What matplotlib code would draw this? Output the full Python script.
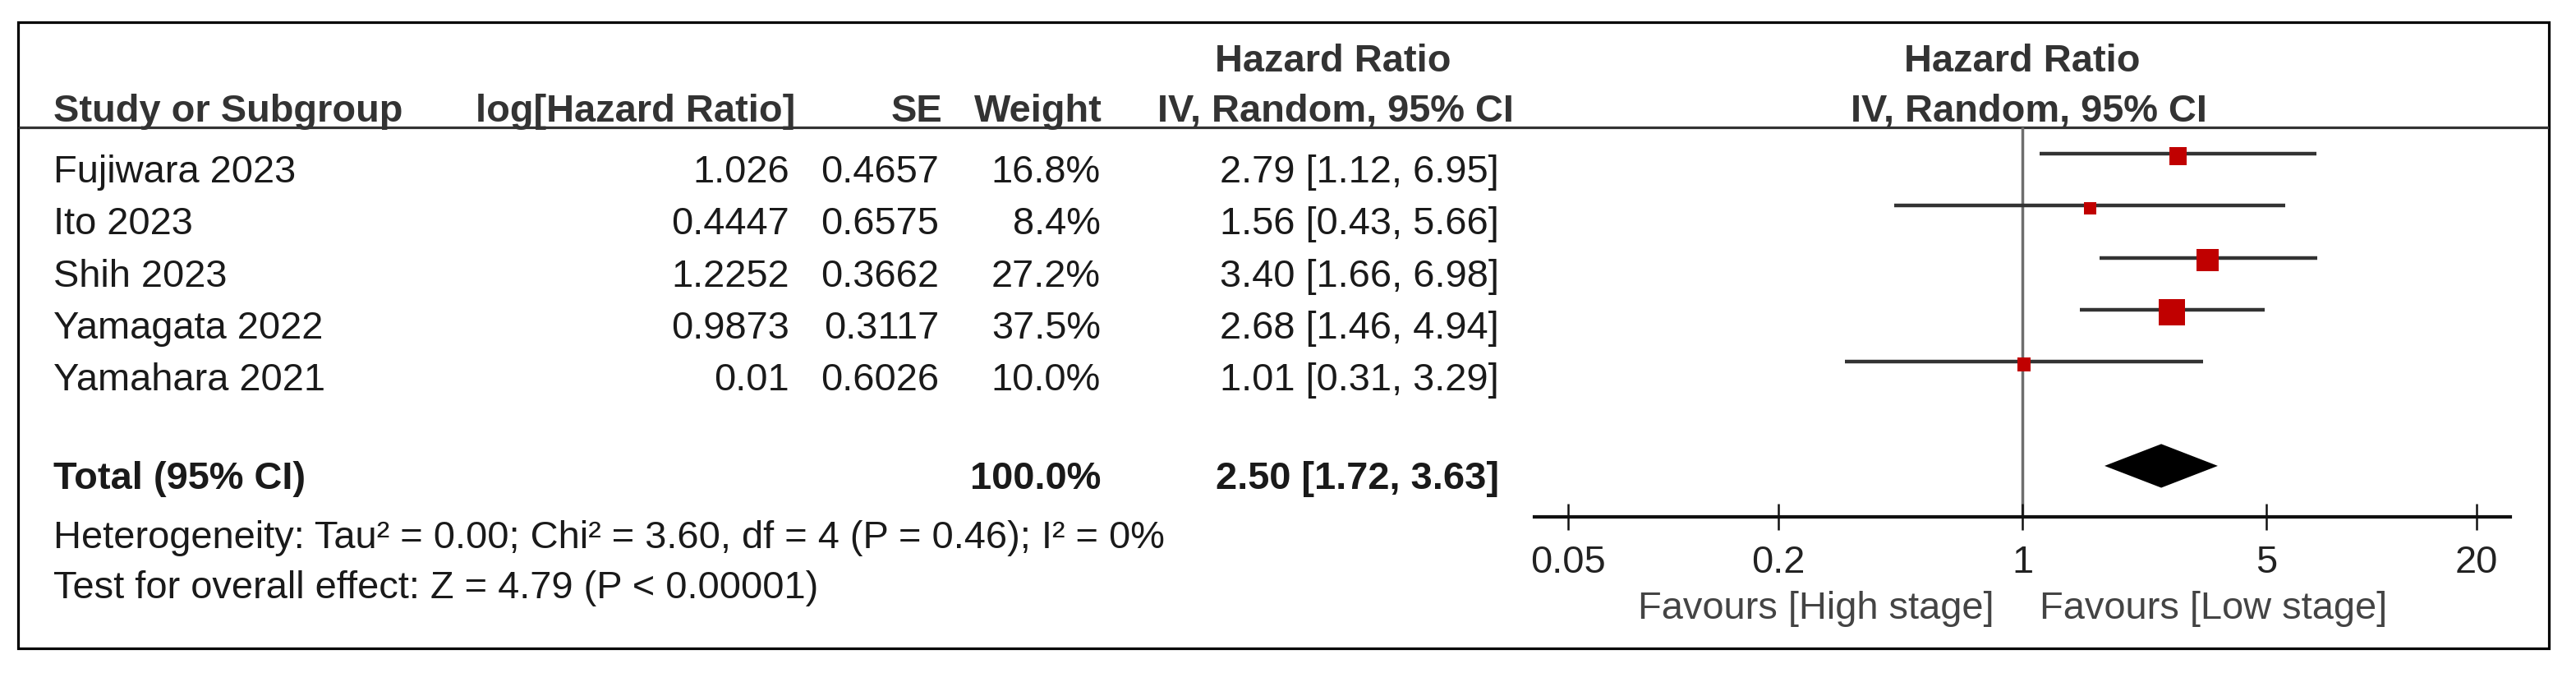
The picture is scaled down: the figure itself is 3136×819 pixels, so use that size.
import numpy as np
import matplotlib
matplotlib.use('Agg')
import matplotlib.pyplot as plt
from matplotlib.patches import Rectangle
from matplotlib.ticker import NullLocator

plt.rcParams['font.family'] = ['Liberation Sans', 'DejaVu Sans']

# data
studies = ['Fujiwara 2023', 'Ito 2023', 'Shih 2023', 'Yamagata 2022', 'Yamahara 2021']
log_hr = [1.026, 0.4447, 1.2252, 0.9873, 0.01]
se = [0.4657, 0.6575, 0.3662, 0.3117, 0.6026]
weight = [16.8, 8.4, 27.2, 37.5, 10.0]
hr = [2.79, 1.56, 3.40, 2.68, 1.01]
ci_low = [1.12, 0.43, 1.66, 1.46, 0.31]
ci_high = [6.95, 5.66, 6.98, 4.94, 3.29]

total_hr = 2.50
total_low = 1.72
total_high = 3.63
total_weight = 100.0

ticks = [0.05, 0.2, 1, 5, 20]
tick_labels = ['0.05', '0.2', '1', '5', '20']
heterogeneity = 'Heterogeneity: Tau² = 0.00; Chi² = 3.60, df = 4 (P = 0.46); I² = 0%'
overall = 'Test for overall effect: Z = 4.79 (P < 0.00001)'
favours_left = 'Favours [High stage]'
favours_right = 'Favours [Low stage]'

W, H = 3136, 819
FS = 33.8
HEAD = '#333333'
BODY = '#1a1a1a'

fig = plt.figure(figsize=(W / 100, H / 100), dpi=100)

# canvas in pixel units for the table part
ax_t = fig.add_axes([0, 0, 1, 1])
ax_t.set_xlim(0, W)
ax_t.set_ylim(H, 0)
ax_t.axis('off')

ax_t.add_patch(Rectangle((22, 27), 3081, 762, fill=False, lw=2.3, ec='black'))
ax_t.plot([22, 3103], [155, 155], color='#333333', lw=2.3, solid_capstyle='butt')

# header
bold = dict(fontsize=FS, fontweight='bold', color=HEAD, va='baseline')
ax_t.text(1623, 87, 'Hazard Ratio', ha='center', **bold)
ax_t.text(2462, 87, 'Hazard Ratio', ha='center', **bold)
ax_t.text(65, 148, 'Study or Subgroup', ha='left', **bold)
ax_t.text(968, 148, 'log[Hazard Ratio]', ha='right', **bold)
ax_t.text(1147, 148, 'SE', ha='right', **bold)
ax_t.text(1342, 148, 'Weight', ha='right', **bold)
ax_t.text(1843, 148, 'IV, Random, 95% CI', ha='right', **bold)
ax_t.text(2470, 148, 'IV, Random, 95% CI', ha='center', **bold)

# study rows
norm = dict(fontsize=FS, color=BODY, va='baseline')
row_base, step = 222, 63.3
for i, name in enumerate(studies):
    yb = row_base + i * step
    ax_t.text(65, yb, name, ha='left', **norm)
    ax_t.text(961, yb, str(log_hr[i]), ha='right', **norm)
    ax_t.text(1143, yb, str(se[i]), ha='right', **norm)
    ax_t.text(1340, yb, f'{weight[i]:.1f}%', ha='right', **norm)
    ax_t.text(1825, yb, f'{hr[i]:.2f} [{ci_low[i]:.2f}, {ci_high[i]:.2f}]', ha='right', **norm)

# total row
tb = dict(fontsize=FS, fontweight='bold', color=BODY, va='baseline')
ax_t.text(65, 595, 'Total (95% CI)', ha='left', **tb)
ax_t.text(1340, 595, f'{total_weight:.1f}%', ha='right', **tb)
ax_t.text(1825, 595, f'{total_hr:.2f} [{total_low:.2f}, {total_high:.2f}]', ha='right', **tb)

ax_t.text(65, 667, heterogeneity, ha='left', **norm)
ax_t.text(65, 728, overall, ha='left', **norm)

ax_t.text(2428, 753, favours_left, ha='right', va='baseline', fontsize=FS, color='#444444')
ax_t.text(2483, 753, favours_right, ha='left', va='baseline', fontsize=FS, color='#444444')

# forest panel
ax = fig.add_axes([1868 / W, (H - 629) / H, (3056 - 1868) / W, (629 - 155) / H])
ax.patch.set_alpha(0)
ax.set_xscale('log')
ax.set_xlim(0.04, 25)
ax.set_ylim(6.98, -0.505)
for s in ['top', 'left', 'right']:
    ax.spines[s].set_visible(False)
ax.spines['bottom'].set_linewidth(3)
ax.spines['bottom'].set_color('#111111')
ax.set_xticks(ticks)
ax.set_xticklabels(tick_labels)
ax.xaxis.set_minor_locator(NullLocator())
ax.set_yticks([])
ax.tick_params(axis='x', direction='inout', length=23, width=1.8, pad=13,
               labelsize=FS, colors='#111111', labelcolor='#222222')

ax.axvline(1, color='#6e6e6e', lw=2.5, zorder=1)
rows = np.arange(len(studies))
ax.hlines(rows, ci_low, ci_high, color='#333333', lw=3.2, zorder=2)
side_pt = 5.2 * np.sqrt(weight) * 0.72
ax.scatter(hr, rows + 0.05, marker='s', s=side_pt ** 2, color='#c00000', linewidths=0, zorder=3)

total_row = len(studies) + 1
ax.fill([total_low, total_hr, total_high, total_hr],
        [total_row, total_row - 0.42, total_row, total_row + 0.42],
        color='black', lw=0, zorder=3)

fig.savefig('out.png', dpi=100)
